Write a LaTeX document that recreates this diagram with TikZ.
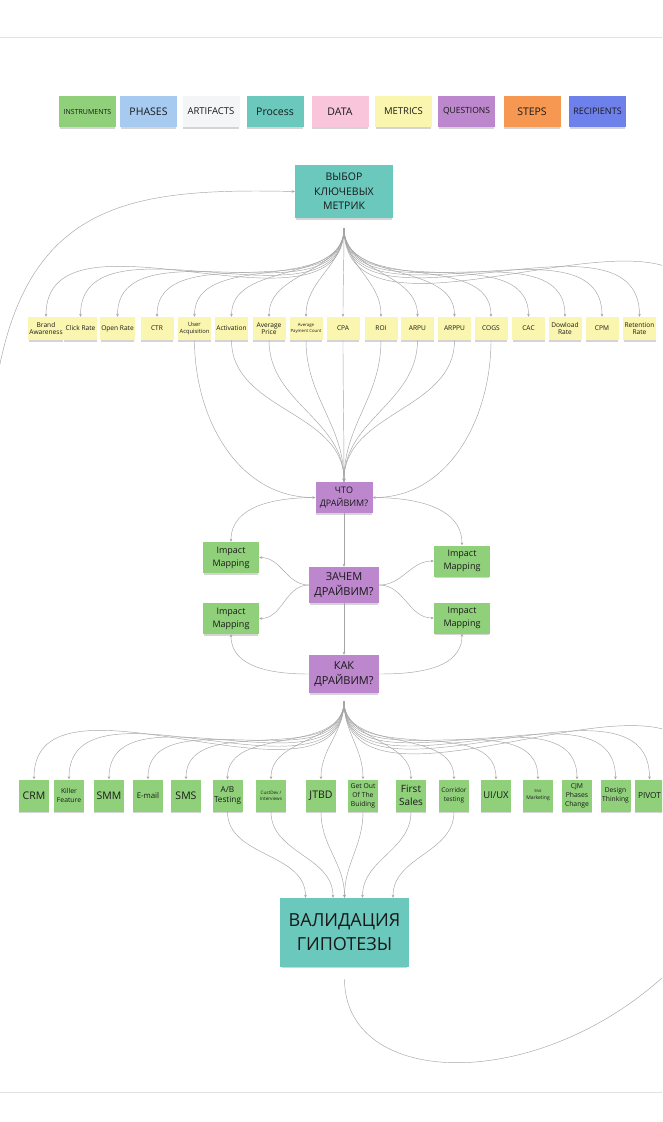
\documentclass[tikz,border=0pt]{standalone}
\usepackage{fontspec}
\setmainfont{Open Sans}
\usetikzlibrary{arrows.meta,shadows}
\definecolor{toolc}{RGB}{144,208,122}
\definecolor{metricc}{RGB}{250,246,176}
\definecolor{procc}{RGB}{106,200,189}
\definecolor{questc}{RGB}{188,135,204}
\definecolor{phasec}{RGB}{166,202,240}
\definecolor{artc}{RGB}{244,245,247}
\definecolor{datac}{RGB}{248,197,218}
\definecolor{stepc}{RGB}{246,152,82}
\definecolor{recc}{RGB}{110,128,234}
\definecolor{linec}{RGB}{165,165,165}
\definecolor{rulec}{RGB}{225,225,225}
\definecolor{txtc}{RGB}{25,25,25}
\newcommand\fsz[2]{\fontsize{#1}{#2}\selectfont}
\tikzset{
  sticky/.style={draw=none, align=center, inner sep=1pt, text=txtc,
    drop shadow={shadow xshift=0pt, shadow yshift=-2.5pt, shadow scale=0.97, opacity=0.3, fill=black!55}},
  legend/.style={sticky, minimum width=57pt, minimum height=31pt},
  metric/.style={sticky, fill=metricc, minimum width=33pt, minimum height=23pt, font=\fsz{6.6}{7.5}},
  tool/.style={sticky, fill=toolc, minimum width=30pt, minimum height=32pt, font=\fsz{10.5}{12}},
  quest/.style={sticky, fill=questc},
  impact/.style={sticky, fill=toolc, minimum width=56pt, minimum height=31pt, font=\fsz{9}{13}},
  proc/.style={sticky, fill=procc},
  conn/.style={draw=linec, line width=0.45pt},
  arr/.style={conn, -{Stealth[length=3pt,width=2.6pt]}},
  fan/.style={arr, out=-90, in=90},
  rule/.style={draw=rulec, line width=1pt}
}
\begin{document}
\begin{tikzpicture}[x=1pt,y=-1pt]
\useasboundingbox (0,0) rectangle (662,1122);
\fill[white] (0,0) rectangle (662,1122);
\clip (0,0) rectangle (662,1122);

% rules
\coordinate (r1a) at (0,37); \coordinate (r1b) at (662,37);
\coordinate (r2a) at (0,1092); \coordinate (r2b) at (662,1092);
\draw[rule] (r1a) -- (r1b);
\draw[rule] (r2a) -- (r2b);

% legend
\node[legend, fill=toolc,   font=\fsz{7}{8}]     (lg1) at (87.5,111.5) {INSTRUMENTS};
\node[legend, fill=phasec,  font=\fsz{10.5}{12}] (lg2) at (148.5,111.5) {PHASES};
\node[legend, fill=artc,    font=\fsz{9.5}{12}]  (lg3) at (211,111.5) {ARTIFACTS};
\node[legend, fill=procc,   font=\fsz{10.5}{12}] (lg4) at (275,111.5) {Process};
\node[legend, fill=datac,   font=\fsz{10.5}{12}] (lg5) at (340,111.5) {DATA};
\node[legend, fill=metricc, font=\fsz{9.5}{12}]  (lg6) at (403.5,111.5) {METRICS};
\node[legend, fill=questc,  font=\fsz{8.5}{12}]  (lg7) at (466.5,111.5) {QUESTIONS};
\node[legend, fill=stepc,   font=\fsz{10.5}{12}] (lg8) at (532,111.5) {STEPS};
\node[legend, fill=recc,    font=\fsz{9}{12}]    (lg9) at (597.5,111.5) {RECIPIENTS};

% top process
\node[proc, minimum width=98pt, minimum height=53pt, font=\fsz{10.5}{14.5}] (vybor) at (344,191.5) {ВЫБОР\\КЛЮЧЕВЫХ\\МЕТРИК};

% metrics
\node[metric] (m1) at (46,328.5) {Brand\\Awareness};
\node[metric] (m2) at (80.5,328.5) {Click Rate};
\node[metric] (m3) at (117.5,328.5) {Open Rate};
\node[metric] (m4) at (157,328.5) {CTR};
\node[metric, font=\fsz{5.8}{7.5}] (m5) at (194.5,328.5) {User\\Acquisition};
\node[metric] (m6) at (231.5,328.5) {Activation};
\node[metric] (m7) at (269,328.5) {Average\\Price};
\node[metric, font=\fsz{4.3}{6}] (m8) at (306,328.5) {Average\\Payment Count};
\node[metric] (m9) at (343,328.5) {CPA};
\node[metric] (m10) at (381,328.5) {ROI};
\node[metric] (m11) at (417.5,328.5) {ARPU};
\node[metric] (m12) at (454.5,328.5) {ARPPU};
\node[metric] (m13) at (491,328.5) {COGS};
\node[metric] (m14) at (528.5,328.5) {CAC};
\node[metric] (m15) at (565,328.5) {Dowload\\Rate};
\node[metric] (m16) at (602,328.5) {CPM};
\node[metric] (m17) at (639.5,328.5) {Retention\\Rate};

% questions
\node[quest, minimum width=57pt, minimum height=31pt, font=\fsz{9}{13}] (q1) at (344,497.5) {ЧТО\\ДРАЙВИМ?};
\node[quest, minimum width=70pt, minimum height=36pt, font=\fsz{11}{15}] (q2) at (344,585) {ЗАЧЕМ\\ДРАЙВИМ?};
\node[quest, minimum width=70pt, minimum height=38pt, font=\fsz{11}{15}] (q3) at (344,674) {КАК\\ДРАЙВИМ?};
\node[impact] (i1) at (231,557.5) {Impact\\Mapping};
\node[impact] (i2) at (231,618.5) {Impact\\Mapping};
\node[impact] (i3) at (462,561) {Impact\\Mapping};
\node[impact] (i4) at (462,618) {Impact\\Mapping};

% tools
\node[tool] (t1) at (34,795.5) {CRM};
\node[tool, font=\fsz{6.8}{9}] (t2) at (69,795.5) {Killer\\Feature};
\node[tool] (t3) at (109,795.5) {SMM};
\node[tool, font=\fsz{7.8}{9}] (t4) at (148,795.5) {E-mail};
\node[tool] (t5) at (186,795.5) {SMS};
\node[tool, font=\fsz{8.2}{10.5}] (t6) at (227.5,795.5) {A/B\\Testing};
\node[tool, font=\fsz{4.6}{6}] (t7) at (271,795.5) {CustDev /\\Interviews};
\node[tool] (t8) at (321,795.5) {JTBD};
\node[tool, font=\fsz{6.8}{9}] (t9) at (363,795.5) {Get Out\\Of The\\Buiding};
\node[tool, font=\fsz{10}{12.5}] (t10) at (411,795.5) {First\\Sales};
\node[tool, font=\fsz{6.4}{9}] (t11) at (454,795.5) {Corridor\\testing};
\node[tool, font=\fsz{9.5}{12}] (t12) at (496,795.5) {UI/UX};
\node[tool, font=\fsz{5}{7}] (t13) at (538,795.5) {{\fsz{4}{6}Shit}\\Marketing};
\node[tool, font=\fsz{6.8}{9}] (t14) at (577,795.5) {CJM\\Phases\\Change};
\node[tool, font=\fsz{6.7}{9}] (t15) at (615.5,795.5) {Design\\Thinking};
\node[tool, font=\fsz{8.3}{12}] (t16) at (649.5,795.5) {PIVOT};

% validation
\node[proc, minimum width=129pt, minimum height=69pt, font=\fsz{18}{24}] (val) at (344.5,932.5) {ВАЛИДАЦИЯ\\ГИПОТЕЗЫ};

% connectors: metrics fan
\coordinate (vout) at ([yshift=-10pt]vybor.south);
\coordinate (moff) at (700,317);
\foreach \i in {1,...,17} { \draw[fan] (vout) to (m\i.north); }
\draw[fan] (vout) to (moff);

% metrics to ЧТО
\draw[arr] (m5.south) to[out=-90,in=180] (q1.west);
\draw[arr] (m13.south) to[out=-90,in=0] (q1.east);
\foreach \i in {6,...,12} { \draw[arr] (m\i.south) to[out=-90,in=90] (q1.north); }

% question block
\draw[arr] (q1.west) to[out=180,in=90] (i1.north);
\draw[arr] (q1.east) to[out=0,in=90] (i3.north);
\draw[arr] (q1.south) -- (q2.north);
\draw[arr] (q2.west) to[out=180,in=0] (i1.east);
\draw[arr] (q2.west) to[out=180,in=0] (i2.east);
\draw[arr] (q2.east) to[out=0,in=180] (i3.west);
\draw[arr] (q2.east) to[out=0,in=180] (i4.west);
\draw[arr] (q2.south) -- (q3.north);
\draw[arr] (q3.west) to[out=180,in=-90] (i2.south);
\draw[arr] (q3.east) to[out=0,in=-90] (i4.south);

% tools fan
\coordinate (kout) at ([yshift=-8pt]q3.south);
\coordinate (toff) at (700,779);
\foreach \i in {1,...,16} { \draw[fan] (kout) to (t\i.north); }
\draw[fan] (kout) to (toff);

% tools to validation
\draw[arr] (t6.south) to[out=-90,in=90] ([xshift=-39pt]val.north);
\draw[arr] (t7.south) to[out=-90,in=90] ([xshift=-11.5pt]val.north);
\draw[arr] (t8.south) to[out=-90,in=90] (val.north);
\draw[arr] (t9.south) to[out=-90,in=90] (val.north);
\draw[arr] (t10.south) to[out=-90,in=90] ([xshift=18pt]val.north);
\draw[arr] (t11.south) to[out=-90,in=90] ([xshift=48.5pt]val.north);

% feedback loop
\coordinate (loopL) at (-6,400);
\draw[arr] (loopL) .. controls (20,200) and (130,188) .. (vybor.west);
\coordinate (valout) at ([yshift=-12pt]val.south);
\coordinate (loopR) at (690,950);
\draw[conn] (valout) .. controls (345,1095) and (560,1095) .. (loopR);
\end{tikzpicture}
\end{document}
